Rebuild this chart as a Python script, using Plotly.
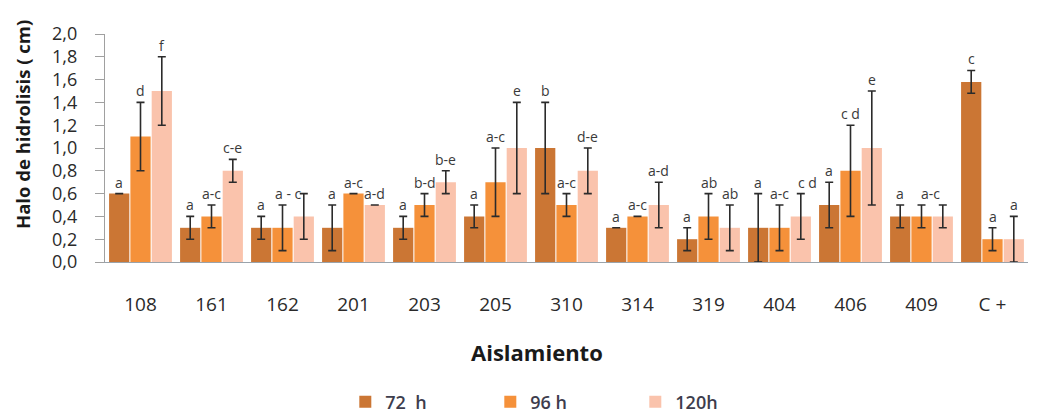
import plotly.graph_objects as go

categories = ["108", "161", "162", "201", "203", "205", "310", "314", "319", "404", "406", "409", "C +"]
series_names = ["72  h", "96 h", "120h"]

v72 = [0.6, 0.3, 0.3, 0.3, 0.3, 0.4, 1.0, 0.3, 0.2, 0.3, 0.5, 0.4, 1.58]
e72 = [0.0, 0.1, 0.1, 0.2, 0.1, 0.1, 0.4, 0.0, 0.1, 0.3, 0.2, 0.1, 0.1]
v96 = [1.1, 0.4, 0.3, 0.6, 0.5, 0.7, 0.5, 0.4, 0.4, 0.3, 0.8, 0.4, 0.2]
e96 = [0.3, 0.1, 0.2, 0.0, 0.1, 0.3, 0.1, 0.0, 0.2, 0.2, 0.4, 0.1, 0.1]
v120 = [1.5, 0.8, 0.4, 0.5, 0.7, 1.0, 0.8, 0.5, 0.3, 0.4, 1.0, 0.4, 0.2]
e120 = [0.3, 0.1, 0.2, 0.0, 0.1, 0.4, 0.2, 0.2, 0.2, 0.2, 0.5, 0.1, 0.2]

l72 = ["a", "a", "a", "a", "a", "a", "b", "a", "a", "a", "a", "a", "c"]
l96 = ["d", "a-c", "a - c", "a-c", "b-d", "a-c", "a-c", "a-c", "ab", "a-c", "c d", "a-c", "a"]
l120 = ["f", "c-e", "", "a-d", "b-e", "e", "d-e", "a-d", "ab", "c d", "e", "", "a"]

y_ticks = [0.0, 0.2, 0.4, 0.6, 0.8, 1.0, 1.2, 1.4, 1.6, 1.8, 2.0]

colors = ["#CB7634", "#F5913A", "#FAC3AC"]
values = [v72, v96, v120]
errors = [e72, e96, e120]
labels = [l72, l96, l120]

# small horizontal nudges (px) for letter labels that sit between bars
nudges = {(1, 2): 6, (1, 11): 9, (2, 9): 7}

FONT = "Open Sans"
fig = go.Figure()
for i in range(3):
    fig.add_trace(go.Bar(
        x=categories, y=values[i], name=series_names[i],
        marker=dict(color=colors[i], line=dict(width=0)),
        error_y=dict(type="data", array=errors[i], visible=True,
                     color="#2b2b2b", thickness=1.6, width=4),
    ))

bargap = 0.1
bargroupgap = 0.05
cat_px = 923 / len(categories)
slot = cat_px * (1 - bargap) / 3
annotations = []
for i in range(3):
    for j, c in enumerate(categories):
        t = labels[i][j]
        if not t:
            continue
        annotations.append(dict(
            x=j, y=values[i][j] + errors[i][j], xref="x", yref="y",
            text=t, showarrow=False, yanchor="bottom",
            xshift=(i - 1) * slot + nudges.get((i, j), 0), yshift=0,
            font=dict(family=FONT, size=14, color="#3a3a3a"),
        ))

annotations.append(dict(
    x=-0.09, y=0.605, xref="paper", yref="paper", textangle=-90,
    xanchor="center", yanchor="middle",
    text="<b>Halo de hidrolisis ( cm)</b>", showarrow=False,
    font=dict(family=FONT, size=18.5, color="#1a1a1a"),
))
annotations.append(dict(
    x=0.468, y=-0.395, xref="paper", yref="paper",
    xanchor="center", yanchor="middle",
    text="<b>Aislamiento</b>", showarrow=False,
    font=dict(family=FONT, size=22, color="#1a1a1a"),
))

fig.update_layout(
    width=1042, height=408,
    margin=dict(l=97, r=22, t=26, b=154, autoexpand=False),
    barmode="group", bargap=bargap, bargroupgap=bargroupgap,
    plot_bgcolor="white", paper_bgcolor="white",
    separators=",.",
    annotations=annotations,
    showlegend=True,
    legend=dict(orientation="h", x=0.496, xanchor="center", y=-0.614, yanchor="middle",
                font=dict(family=FONT, size=18, color="#3d3d4d", weight=600),
                entrywidth=100, entrywidthmode="pixels", itemwidth=30),
    font=dict(family=FONT),
)
fig.update_xaxes(type="category", showline=True, linecolor="#9aa3ab", linewidth=1.2, ticks="",
                 tickfont=dict(family=FONT, size=19, color="#2a2a2a"),
                 ticklabelstandoff=25, showgrid=False, automargin=False)
fig.update_yaxes(range=[0, 2.0], tickvals=y_ticks, tickformat=".1f",
                 showline=True, linecolor="#a0a0a0", linewidth=1.2,
                 ticks="outside", ticklen=9, tickcolor="#a0a0a0",
                 tickfont=dict(family=FONT, size=18, color="#2a2a2a"),
                 ticklabelstandoff=14,
                 showgrid=False, zeroline=False, automargin=False)

fig.write_html("out.html")
